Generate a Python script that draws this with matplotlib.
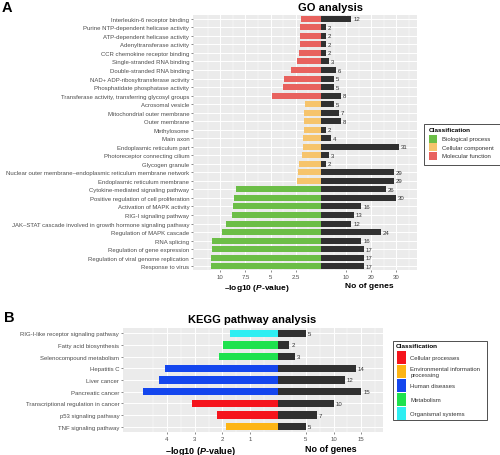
import matplotlib
matplotlib.use("Agg")
import matplotlib.pyplot as plt
from matplotlib.patches import Rectangle

plt.rcParams['font.family'] = ['Liberation Sans', 'DejaVu Sans']
plt.rcParams['mathtext.fontset'] = 'custom'
plt.rcParams['mathtext.rm'] = 'Liberation Sans'
plt.rcParams['mathtext.bf'] = 'Liberation Sans:bold'
plt.rcParams['mathtext.it'] = 'Liberation Sans:italic'
plt.rcParams['mathtext.bfit'] = 'Liberation Sans:italic:bold'

# ---------------- GO data (top to bottom) ----------------
go_terms = [
    "Interleukin-6 receptor binding",
    "Purine NTP-dependent helicase activity",
    "ATP-dependent helicase activity",
    "Adenyltransferase activity",
    "CCR chemokine receptor binding",
    "Single-stranded RNA binding",
    "Double-stranded RNA binding",
    "NAD+ ADP-ribosyltransferase activity",
    "Phosphatidate phosphatase activity",
    "Transferase activity, transferring glycosyl groups",
    "Acrosomal vesicle",
    "Mitochondrial outer membrane",
    "Outer membrane",
    "Methylosome",
    "Main axon",
    "Endoplasmic reticulum part",
    "Photoreceptor connecting cilium",
    "Glycogen granule",
    "Nuclear outer membrane\u2013endoplasmic reticulum membrane network",
    "Endoplasmic reticulum membrane",
    "Cytokine-mediated signaling pathway",
    "Positive regulation of cell proliferation",
    "Activation of MAPK activity",
    "RIG-I signaling pathway",
    "JAK\u2013STAT cascade involved in growth hormone signaling pathway",
    "Regulation of MAPK cascade",
    "RNA splicing",
    "Regulation of gene expression",
    "Regulation of viral genome replication",
    "Response to virus",
]
go_logp = [2.0, 2.05, 2.05, 2.05, 2.2, 2.4, 2.95, 3.67, 3.77, 4.9,
           1.63, 1.7, 1.7, 1.73, 1.76, 1.83, 1.92, 2.15, 2.25, 2.35,
           8.47, 8.6, 8.7, 8.86, 9.43, 9.82, 10.78, 10.78, 10.88, 10.94]
go_genes = [12, 2, 2, 2, 2, 3, 6, 5, 5, 8,
            5, 7, 8, 2, 4, 31, 3, 2, 29, 29,
            26, 30, 16, 13, 12, 24, 16, 17, 17, 17]
go_class = (["Molecular function"] * 10 + ["Cellular component"] * 10 +
            ["Biological process"] * 10)
go_classes = ["Biological process", "Cellular component", "Molecular function"]
go_colors = {"Biological process": "#6CBE47",
             "Cellular component": "#F6C46C",
             "Molecular function": "#E8625E"}
go_left_ticks = [10, 7.5, 5, 2.5]
go_left_ticklabels = ["10", "7.5", "5", "2.5"]
go_right_ticks = [10, 20, 30]

# ---------------- KEGG data (top to bottom) ----------------
kegg_terms = [
    "RIG-I-like receptor signaling pathway",
    "Fatty acid biosynthesis",
    "Selenocompound metabolism",
    "Hepatitis C",
    "Liver cancer",
    "Pancreatic cancer",
    "Transcriptional regulation in cancer",
    "p53 signaling pathway",
    "TNF signaling pathway",
]
kegg_logp = [1.72, 1.98, 2.12, 4.08, 4.27, 4.87, 3.08, 2.21, 1.89]
kegg_genes = [5, 2, 3, 14, 12, 15, 10, 7, 5]
kegg_class = ["Organismal systems", "Metabolism", "Metabolism",
              "Human diseases", "Human diseases", "Human diseases",
              "Cellular processes", "Cellular processes",
              "Environmental information processing"]
kegg_classes = ["Cellular processes", "Environmental information processing",
                "Human diseases", "Metabolism", "Organismal systems"]
kegg_legend_labels = ["Cellular processes", "Environmental information\nprocessing",
                      "Human diseases", "Metabolism", "Organismal systems"]
kegg_colors = {"Cellular processes": "#F5141C",
               "Environmental information processing": "#FDB515",
               "Human diseases": "#1446EE",
               "Metabolism": "#1EE24E",
               "Organismal systems": "#2EEEF2"}
kegg_left_ticks = [4, 3, 2, 1]
kegg_right_ticks = [5, 10, 15]

BLACK = "#303030"
GRID_BG = "#EBEBEB"
TXT = "#4D4D4D"
FS = 4.3
XLAB = "\u2013log10 ($\\mathbfit{P}$-value)"

W, H = 500, 456
fig = plt.figure(figsize=(W / 100, H / 100), dpi=100)


def ax_px(x0, y0, x1, y1):
    return fig.add_axes([x0 / W, 1 - y1 / H, (x1 - x0) / W, (y1 - y0) / H])


def style(ax, major, minor, n):
    ax.set_facecolor(GRID_BG)
    for s in ax.spines.values():
        s.set_visible(False)
    ax.set_xticks(major)
    ax.set_xticks(minor, minor=True)
    ax.set_yticks(range(n))
    ax.grid(which='major', axis='both', color='white', lw=0.7)
    ax.grid(which='minor', axis='x', color='white', lw=0.35)
    ax.set_axisbelow(True)
    ax.tick_params(which='major', length=1.5, width=0.4, color='#333333',
                   labelsize=FS, labelcolor=TXT, pad=1.2)
    ax.tick_params(which='minor', length=0)
    ax.set_ylim(-0.45, n - 1 + 0.45)


def px(x, y):
    return (x / W, 1 - y / H)


# ================= Panel A =================
n = len(go_terms)
ys = [n - 1 - i for i in range(n)]
axL = ax_px(193, 16, 321, 271)
axR = ax_px(321, 16, 417, 271)
style(axL, go_left_ticks, [1.25, 3.75, 6.25, 8.75, 11.25], n)
style(axR, go_right_ticks, [5, 15, 25, 35], n)
axL.set_xlim(12.7, 0)
axR.set_xlim(0, 38.4)
axL.barh(ys, go_logp, height=0.7, color=[go_colors[c] for c in go_class])
axR.barh(ys, go_genes, height=0.7, color=BLACK)
for y, g in zip(ys, go_genes):
    axR.annotate(str(g), (g, y), xytext=(1.5, 0), textcoords='offset points',
                 va='center', ha='left', fontsize=FS, color='#333333')
axL.set_xticklabels(go_left_ticklabels)
axL.set_yticklabels(go_terms[::-1])
axR.set_yticklabels([])
axR.tick_params(axis='y', length=0)
axL.set_xlabel(XLAB, fontsize=6, fontweight='bold', labelpad=2)
axR.set_xlabel("No of genes", fontsize=6, fontweight='bold', labelpad=2)
fig.text(*px(331, 8), "GO analysis", fontsize=8, fontweight='bold',
         ha='center', va='center')
fig.text(*px(2, 8), "A", fontsize=10.5, fontweight='bold', ha='left', va='center')

# legend A
x0, y0, x1, y1 = 424, 125, 499.5, 166
fig.patches.append(Rectangle(px(x0, y1), (x1 - x0) / W, (y1 - y0) / H,
                             transform=fig.transFigure, fill=False,
                             edgecolor='#333333', lw=0.6))
fig.text(*px(429, 130), "Classification", fontsize=4.6, fontweight='bold',
         ha='left', va='center')
for k, c in enumerate(go_classes):
    yc = 139.5 + k * 8.7
    fig.patches.append(Rectangle(px(429, yc + 4), 8 / W, 8 / H,
                                 transform=fig.transFigure,
                                 facecolor=go_colors[c], edgecolor='none'))
    fig.text(*px(442, yc), c, fontsize=FS, color='#333333', ha='left', va='center')

# ================= Panel B =================
m = len(kegg_terms)
ys2 = [m - 1 - i for i in range(m)]
bxL = ax_px(123, 329, 278, 433)
bxR = ax_px(278, 329, 383, 433)
style(bxL, kegg_left_ticks, [0.5, 1.5, 2.5, 3.5, 4.5], m)
style(bxR, kegg_right_ticks, [2.5, 7.5, 12.5, 17.5], m)
bxL.set_xlim(5.58, 0)
bxR.set_xlim(0, 18.9)
bxL.barh(ys2, kegg_logp, height=0.62, color=[kegg_colors[c] for c in kegg_class])
bxR.barh(ys2, kegg_genes, height=0.62, color=BLACK)
for y, g in zip(ys2, kegg_genes):
    bxR.annotate(str(g), (g, y), xytext=(1.5, 0), textcoords='offset points',
                 va='center', ha='left', fontsize=FS, color='#333333')
bxL.set_yticklabels(kegg_terms[::-1])
bxR.set_yticklabels([])
bxR.tick_params(axis='y', length=0)
bxL.set_xlabel(XLAB, fontsize=6.5, fontweight='bold', labelpad=2)
bxR.set_xlabel("No of genes", fontsize=6.5, fontweight='bold', labelpad=2)
fig.text(*px(252, 320), "KEGG pathway analysis", fontsize=8, fontweight='bold',
         ha='center', va='center')
fig.text(*px(4, 318), "B", fontsize=10.5, fontweight='bold', ha='left', va='center')

# legend B
x0, y0, x1, y1 = 393, 342, 487, 421
fig.patches.append(Rectangle(px(x0, y1), (x1 - x0) / W, (y1 - y0) / H,
                             transform=fig.transFigure, fill=False,
                             edgecolor='#333333', lw=0.6))
fig.text(*px(396, 347), "Classification", fontsize=4.6, fontweight='bold',
         ha='left', va='center')
for k, (c, lab) in enumerate(zip(kegg_classes, kegg_legend_labels)):
    yc = 358.5 + k * 13.9
    fig.patches.append(Rectangle(px(396.5, yc + 6.5), 9.5 / W, 13 / H,
                                 transform=fig.transFigure,
                                 facecolor=kegg_colors[c], edgecolor='none'))
    fig.text(*px(410.5, yc), lab, fontsize=FS, color='#333333', ha='left',
             va='center', linespacing=1.1)

fig.savefig("out.png", dpi=100)
